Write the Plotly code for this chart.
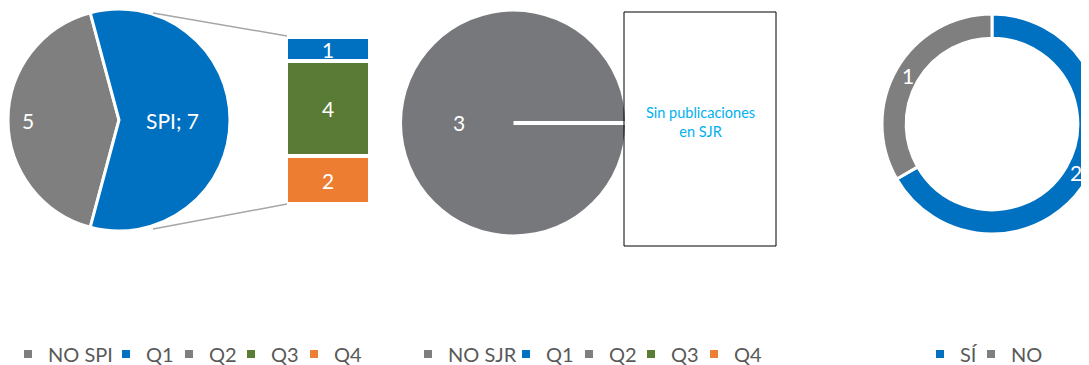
import math
import plotly.graph_objects as go

# --- data ---------------------------------------------------------------
spi_labels = ["NO SPI", "Q1", "Q2", "Q3", "Q4"]
spi_values = [5, 1, 0, 4, 2]

sjr_labels = ["NO SJR", "Q1", "Q2", "Q3", "Q4"]
sjr_values = [3, 0, 0, 0, 0]

si_no_labels = ["SÍ", "NO"]
si_no_values = [2, 1]

box_text = "Sin publicaciones<br>en SJR"

# --- styles -------------------------------------------------------------
BLUE = "#0070c0"
GRAY = "#7f7f7f"
GRAY2 = "#77787b"
GREEN = "#5a7b35"
ORANGE = "#ed7d31"
spi_colors = [GRAY, BLUE, GRAY, GREEN, ORANGE]
sjr_colors = [GRAY, BLUE, GRAY, GREEN, ORANGE]
si_no_colors = [BLUE, GRAY]

FONT = "Lato, 'Open Sans', sans-serif"
# page has an 8px body margin; the figure is a bit larger than the
# 1089x365 window so the donut gets cut by the right edge like the original
W, H = 1100, 357
OFF = 8


# window pixel -> paper coords
def px(x):
    return min(max((x - OFF) / W, 0), 1)


def py(y):
    return min(max(1 - (y - OFF) / H, 0), 1)


def pie_domain(cx, cy, r):
    return dict(x=[px(cx - r), px(cx + r)], y=[py(cy + r), py(cy - r)])


def slice_label(cx, cy, r, angle, frac):
    # angle measured clockwise from 12 o'clock
    a = math.radians(angle)
    return px(cx + frac * r * math.sin(a)), py(cy - frac * r * math.cos(a))


# pie geometry (window pixels)
P1 = (119, 120, 111)
P2 = (513.5, 123, 111.5)
P3 = (992, 124, 110)
P1_ROT = 195
P2_ROT = 90

fig = go.Figure()
annots = []
lab_font = dict(color="white", size=21, family=FONT)

# pie 1: NO SPI vs SPI (sum of quartiles)
p1_vals = [spi_values[0], sum(spi_values[1:])]
p1_text = [str(p1_vals[0]), f"SPI; {p1_vals[1]}"]
fig.add_trace(go.Pie(
    labels=[spi_labels[0], "SPI"], values=p1_vals,
    marker=dict(colors=[GRAY, BLUE], line=dict(color="white", width=3)),
    sort=False, rotation=P1_ROT, direction="clockwise",
    textinfo="none", domain=pie_domain(*P1),
    showlegend=False, hoverinfo="label+value",
))
start = P1_ROT
for v, t, frac in zip(p1_vals, p1_text, [0.83, 0.49]):
    span = 360 * v / sum(p1_vals)
    x, y = slice_label(P1[0], P1[1], 110, start + span / 2, frac)
    annots.append(dict(x=x, y=y, text=t))
    start += span

# stacked bar with the SPI breakdown
for lab, val, col in zip(spi_labels[1:], spi_values[1:], spi_colors[1:]):
    if val == 0:
        continue
    fig.add_trace(go.Bar(
        x=["SPI"], y=[val], name=lab,
        marker=dict(color=col, line=dict(color="white", width=4)),
        text=[val], textposition="inside", insidetextanchor="middle",
        textangle=0, constraintext="none",
        textfont=lab_font, showlegend=False, width=1,
    ))

# pie 2: NO SJR only
fig.add_trace(go.Pie(
    labels=sjr_labels, values=sjr_values,
    marker=dict(colors=[GRAY2] + sjr_colors[1:], line=dict(color="white", width=0)),
    sort=False, rotation=P2_ROT, textinfo="none",
    domain=pie_domain(*P2), showlegend=False,
))
x, y = slice_label(P2[0], P2[1], 110, P2_ROT + 180, 0.5)
annots.append(dict(x=x, y=y, text=str(sum(sjr_values))))

# donut SÍ / NO
fig.add_trace(go.Pie(
    labels=si_no_labels, values=si_no_values, hole=0.78,
    marker=dict(colors=si_no_colors, line=dict(color="white", width=3)),
    sort=False, direction="clockwise", rotation=0,
    textinfo="none", domain=pie_domain(*P3), showlegend=False,
))
start = 0
for v in si_no_values:
    span = 360 * v / sum(si_no_values)
    x, y = slice_label(P3[0], P3[1], 109, start + span / 2, 0.89)
    annots.append(dict(x=x, y=y, text=str(v)))
    start += span

# legend entries: one small legend per item so spacing matches the original
LEG_X1 = [8, 106, 169, 231, 294]
LEG_X2 = [x + 400 for x in LEG_X1]
LEG_X3 = [920, 971]
legend_style = dict(orientation="h", yanchor="middle", y=py(354),
                    xanchor="left",
                    font=dict(size=20, color="#595959", family=FONT),
                    bgcolor="rgba(0,0,0,0)", itemclick=False)
legends = {}
items = (list(zip(spi_labels, spi_colors, LEG_X1))
         + list(zip(sjr_labels, sjr_colors, LEG_X2))
         + list(zip(si_no_labels, si_no_colors, LEG_X3)))
for i, (lab, col, lx) in enumerate(items):
    key = "legend" if i == 0 else f"legend{i + 1}"
    legends[key] = dict(x=px(lx), **legend_style)
    fig.add_trace(go.Scatter(x=[None], y=[None], mode="markers", name=lab,
                             marker=dict(symbol="square", size=8, color=col),
                             legend=key, hoverinfo="skip"))

# connector lines pie -> bar, white radius line, SJR box
line_gray = dict(color="#a6a6a6", width=1.5)
fig.add_shape(type="line", xref="paper", yref="paper",
              x0=px(153), y0=py(13), x1=px(287), y1=py(36), line=line_gray)
fig.add_shape(type="line", xref="paper", yref="paper",
              x0=px(153), y0=py(229), x1=px(287), y1=py(204), line=line_gray)
fig.add_shape(type="line", xref="paper", yref="paper",
              x0=px(P2[0]), y0=py(P2[1]), x1=px(P2[0] + P2[2]), y1=py(P2[1]),
              line=dict(color="white", width=4))
fig.add_shape(type="rect", xref="paper", yref="paper",
              x0=px(624), y0=py(246), x1=px(776), y1=py(12),
              line=dict(color="black", width=1), fillcolor="rgba(0,0,0,0)")
fig.add_annotation(xref="paper", yref="paper", x=px(700), y=py(122),
                   xanchor="center", yanchor="middle",
                   text=box_text, showarrow=False,
                   font=dict(color="#00b0f0", size=14.5, family=FONT))
for a in annots:
    fig.add_annotation(xref="paper", yref="paper", showarrow=False,
                       xanchor="center", yanchor="middle", font=lab_font, **a)

fig.update_layout(
    width=W, height=H,
    margin=dict(l=0, r=0, t=0, b=0, autoexpand=False),
    paper_bgcolor="white", plot_bgcolor="white",
    barmode="stack", bargap=0,
    xaxis=dict(domain=[px(286), px(370)], range=[-0.5, 0.5], visible=False,
               fixedrange=True),
    yaxis=dict(domain=[py(204), py(37)], range=[sum(spi_values[1:]), 0],
               visible=False, fixedrange=True),
    **legends,
)

fig.write_html("out.html", config={"displayModeBar": False})
